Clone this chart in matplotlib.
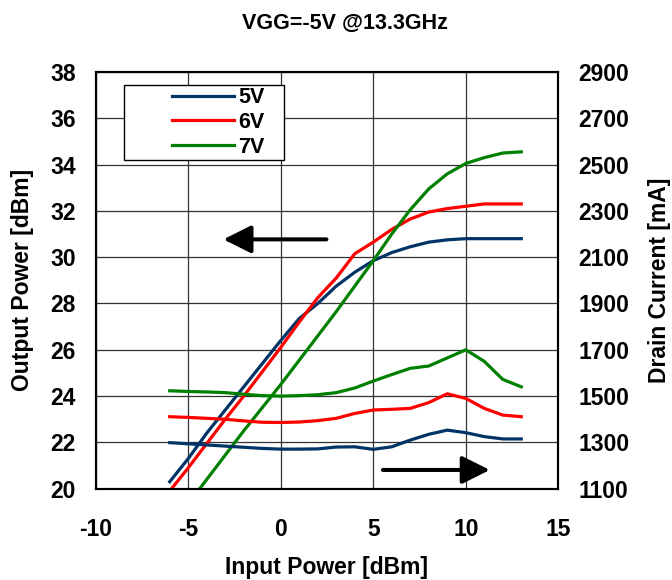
import matplotlib
matplotlib.use("Agg")
import matplotlib.pyplot as plt
from matplotlib.patches import Rectangle
from matplotlib import font_manager

plt.rcParams['font.family'] = ['Liberation Sans', 'DejaVu Sans']
plt.rcParams['font.weight'] = 'bold'
plt.rcParams['axes.unicode_minus'] = False

pin = [-6, -5, -4, -3, -2, -1, 0, 1, 2, 3, 4, 5, 6, 7, 8, 9, 10, 11, 12, 13]

pout_5v = [20.3, 21.3, 22.4, 23.4, 24.4, 25.4, 26.4, 27.35, 28.0, 28.75, 29.35, 29.85,
           30.2, 30.45, 30.65, 30.75, 30.8, 30.8, 30.8, 30.8]
pout_6v = [19.9, 20.9, 21.95, 23.0, 24.0, 25.05, 26.1, 27.2, 28.25, 29.1, 30.15, 30.65,
           31.2, 31.65, 31.95, 32.1, 32.2, 32.3, 32.3, 32.3]
pout_7v = [18.3, 19.35, 20.4, 21.45, 22.5, 23.5, 24.5, 25.55, 26.6, 27.65, 28.75, 29.85,
           31.0, 32.05, 32.95, 33.6, 34.05, 34.3, 34.5, 34.55]

id_5v = [1299, 1294, 1289, 1284, 1279, 1274, 1271, 1271, 1272, 1280, 1281, 1270,
         1281, 1310, 1335, 1353, 1342, 1325, 1315, 1315]
id_6v = [1411, 1408, 1404, 1400, 1393, 1387, 1386, 1388, 1394, 1404, 1425, 1440,
         1443, 1447, 1472, 1510, 1490, 1447, 1418, 1411]
id_7v = [1523, 1520, 1518, 1515, 1508, 1502, 1500, 1502, 1506, 1515, 1535, 1565,
         1593, 1620, 1630, 1665, 1700, 1650, 1572, 1540]

labels = ['5V', '6V', '7V']
colors = ['#003366', '#ff0000', '#008000']

fig = plt.figure(figsize=(6.72, 5.8), dpi=100)
ax = fig.add_axes([0.1424, 0.1574, 0.6884, 0.7185])
ax2 = ax.twinx()

lines = []
for p, c, lab in zip([pout_5v, pout_6v, pout_7v], colors, labels):
    ln, = ax.plot(pin, p, color=c, lw=2.3, label=lab, zorder=3)
    lines.append(ln)
for cur, c in zip([id_5v, id_6v, id_7v], colors):
    ax2.plot(pin, cur, color=c, lw=2.3, zorder=3)

ax.set_xlim(-10, 15)
ax.set_ylim(20, 38)
ax2.set_ylim(1100, 2900)
ax.set_xticks(range(-10, 16, 5))
ax.set_yticks(range(20, 39, 2))
ax2.set_yticks(range(1100, 2901, 200))

ax.grid(True, color='#333333', lw=0.9)
for a in (ax, ax2):
    a.tick_params(length=0, labelsize=16.5, pad=14.5)
    for s in a.spines.values():
        s.set_linewidth(1.5)
ax.tick_params(axis='x', pad=21)

ax.set_xlabel('Input Power [dBm]', fontsize=16.5, fontweight='bold')
ax.set_ylabel('Output Power [dBm]', fontsize=16.5, fontweight='bold')
ax2.set_ylabel('Drain Current [mA]', fontsize=16.5, fontweight='bold')
ax.xaxis.set_label_coords(0.5, -0.188)
ax.xaxis.label.set_va('center')
ax.yaxis.set_label_coords(-0.159, 0.5)
ax.yaxis.label.set_va('center')
ax2.yaxis.set_label_coords(1.2177, 0.5)
ax2.yaxis.label.set_va('center')

names = [f.name for f in font_manager.fontManager.ttflist]
title_font = 'Liberation Sans Narrow' if 'Liberation Sans Narrow' in names else 'Liberation Sans'
fig.text(0.513, 0.960, 'VGG=-5V @13.3GHz', ha='center', va='center',
         fontsize=15.5, fontweight='bold', family=title_font)

# legend box
ax.add_patch(Rectangle((0.061, 0.789), 0.345, 0.18, transform=ax.transAxes,
                       facecolor='white', edgecolor='black', lw=1.0, zorder=4))
ax.legend(handles=lines, loc='center', bbox_to_anchor=(0.265, 0.879),
          frameon=False, handlelength=2.85, handletextpad=0.2,
          labelspacing=0.17, prop={'weight': 'bold', 'size': 15.5}).set_zorder(5)

# direction arrows
style = '-|>,head_length=1.7,head_width=0.85'
ax.annotate('', xy=(-3.1, 30.77), xytext=(2.47, 30.77),
            arrowprops=dict(arrowstyle=style, color='black', lw=2.9,
                            shrinkA=0, shrinkB=0), zorder=5)
ax.annotate('', xy=(11.3, 20.81), xytext=(5.52, 20.81),
            arrowprops=dict(arrowstyle=style, color='black', lw=2.9,
                            shrinkA=0, shrinkB=0), zorder=5)

fig.savefig('out.png', dpi=100)
